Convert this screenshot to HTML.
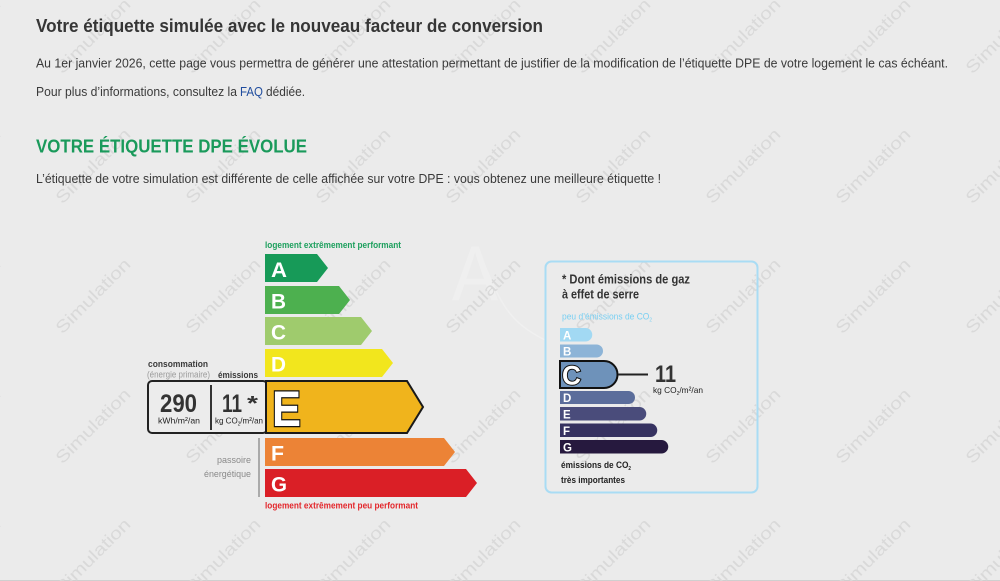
<!DOCTYPE html>
<html><head><meta charset="utf-8"><style>
html,body{margin:0;padding:0;background:#ebebeb;}
svg{display:block;}
text{font-family:"Liberation Sans",Arial,sans-serif;}
</style></head><body>
<svg width="1000" height="581" viewBox="0 0 1000 581" xmlns="http://www.w3.org/2000/svg">
<rect x="0" y="0" width="1000" height="581" fill="#ebebeb"/>
<line x1="0" y1="580.5" x2="1000" y2="580.5" stroke="#cfcfcf" stroke-width="1"/>

<!-- faint logo -->
<g opacity="0.35">
<text x="452" y="300" font-family="Liberation Serif,serif" font-size="78" fill="#f8f8f8" textLength="46" lengthAdjust="spacingAndGlyphs">A</text>
<path d="M478,250 C500,300 505,320 545,340" stroke="#f8f8f8" stroke-width="1.5" fill="none"/>
</g>

<!-- watermarks -->
<g fill="#d9d9d9" font-size="17" text-anchor="middle">
<text transform="translate(-33,40) rotate(-45)" textLength="98" lengthAdjust="spacingAndGlyphs">Simulation</text>
<text transform="translate(97,40) rotate(-45)" textLength="98" lengthAdjust="spacingAndGlyphs">Simulation</text>
<text transform="translate(227,40) rotate(-45)" textLength="98" lengthAdjust="spacingAndGlyphs">Simulation</text>
<text transform="translate(357,40) rotate(-45)" textLength="98" lengthAdjust="spacingAndGlyphs">Simulation</text>
<text transform="translate(487,40) rotate(-45)" textLength="98" lengthAdjust="spacingAndGlyphs">Simulation</text>
<text transform="translate(617,40) rotate(-45)" textLength="98" lengthAdjust="spacingAndGlyphs">Simulation</text>
<text transform="translate(747,40) rotate(-45)" textLength="98" lengthAdjust="spacingAndGlyphs">Simulation</text>
<text transform="translate(877,40) rotate(-45)" textLength="98" lengthAdjust="spacingAndGlyphs">Simulation</text>
<text transform="translate(1007,40) rotate(-45)" textLength="98" lengthAdjust="spacingAndGlyphs">Simulation</text>

<text transform="translate(-33,170) rotate(-45)" textLength="98" lengthAdjust="spacingAndGlyphs">Simulation</text>
<text transform="translate(97,170) rotate(-45)" textLength="98" lengthAdjust="spacingAndGlyphs">Simulation</text>
<text transform="translate(227,170) rotate(-45)" textLength="98" lengthAdjust="spacingAndGlyphs">Simulation</text>
<text transform="translate(357,170) rotate(-45)" textLength="98" lengthAdjust="spacingAndGlyphs">Simulation</text>
<text transform="translate(487,170) rotate(-45)" textLength="98" lengthAdjust="spacingAndGlyphs">Simulation</text>
<text transform="translate(617,170) rotate(-45)" textLength="98" lengthAdjust="spacingAndGlyphs">Simulation</text>
<text transform="translate(747,170) rotate(-45)" textLength="98" lengthAdjust="spacingAndGlyphs">Simulation</text>
<text transform="translate(877,170) rotate(-45)" textLength="98" lengthAdjust="spacingAndGlyphs">Simulation</text>
<text transform="translate(1007,170) rotate(-45)" textLength="98" lengthAdjust="spacingAndGlyphs">Simulation</text>

<text transform="translate(-33,300) rotate(-45)" textLength="98" lengthAdjust="spacingAndGlyphs">Simulation</text>
<text transform="translate(97,300) rotate(-45)" textLength="98" lengthAdjust="spacingAndGlyphs">Simulation</text>
<text transform="translate(227,300) rotate(-45)" textLength="98" lengthAdjust="spacingAndGlyphs">Simulation</text>
<text transform="translate(357,300) rotate(-45)" textLength="98" lengthAdjust="spacingAndGlyphs">Simulation</text>
<text transform="translate(487,300) rotate(-45)" textLength="98" lengthAdjust="spacingAndGlyphs">Simulation</text>
<text transform="translate(617,300) rotate(-45)" textLength="98" lengthAdjust="spacingAndGlyphs">Simulation</text>
<text transform="translate(747,300) rotate(-45)" textLength="98" lengthAdjust="spacingAndGlyphs">Simulation</text>
<text transform="translate(877,300) rotate(-45)" textLength="98" lengthAdjust="spacingAndGlyphs">Simulation</text>
<text transform="translate(1007,300) rotate(-45)" textLength="98" lengthAdjust="spacingAndGlyphs">Simulation</text>

<text transform="translate(-33,430) rotate(-45)" textLength="98" lengthAdjust="spacingAndGlyphs">Simulation</text>
<text transform="translate(97,430) rotate(-45)" textLength="98" lengthAdjust="spacingAndGlyphs">Simulation</text>
<text transform="translate(227,430) rotate(-45)" textLength="98" lengthAdjust="spacingAndGlyphs">Simulation</text>
<text transform="translate(357,430) rotate(-45)" textLength="98" lengthAdjust="spacingAndGlyphs">Simulation</text>
<text transform="translate(487,430) rotate(-45)" textLength="98" lengthAdjust="spacingAndGlyphs">Simulation</text>
<text transform="translate(617,430) rotate(-45)" textLength="98" lengthAdjust="spacingAndGlyphs">Simulation</text>
<text transform="translate(747,430) rotate(-45)" textLength="98" lengthAdjust="spacingAndGlyphs">Simulation</text>
<text transform="translate(877,430) rotate(-45)" textLength="98" lengthAdjust="spacingAndGlyphs">Simulation</text>
<text transform="translate(1007,430) rotate(-45)" textLength="98" lengthAdjust="spacingAndGlyphs">Simulation</text>

<text transform="translate(-33,560) rotate(-45)" textLength="98" lengthAdjust="spacingAndGlyphs">Simulation</text>
<text transform="translate(97,560) rotate(-45)" textLength="98" lengthAdjust="spacingAndGlyphs">Simulation</text>
<text transform="translate(227,560) rotate(-45)" textLength="98" lengthAdjust="spacingAndGlyphs">Simulation</text>
<text transform="translate(357,560) rotate(-45)" textLength="98" lengthAdjust="spacingAndGlyphs">Simulation</text>
<text transform="translate(487,560) rotate(-45)" textLength="98" lengthAdjust="spacingAndGlyphs">Simulation</text>
<text transform="translate(617,560) rotate(-45)" textLength="98" lengthAdjust="spacingAndGlyphs">Simulation</text>
<text transform="translate(747,560) rotate(-45)" textLength="98" lengthAdjust="spacingAndGlyphs">Simulation</text>
<text transform="translate(877,560) rotate(-45)" textLength="98" lengthAdjust="spacingAndGlyphs">Simulation</text>
<text transform="translate(1007,560) rotate(-45)" textLength="98" lengthAdjust="spacingAndGlyphs">Simulation</text>
</g>

<!-- header text -->
<text x="36" y="32" font-size="18" font-weight="bold" fill="#363636" textLength="507" lengthAdjust="spacingAndGlyphs">Votre étiquette simulée avec le nouveau facteur de conversion</text>
<text x="36" y="67.5" font-size="12.5" fill="#3a3a3a" textLength="912" lengthAdjust="spacingAndGlyphs">Au 1er janvier 2026, cette page vous permettra de générer une attestation permettant de justifier de la modification de l’étiquette DPE de votre logement le cas échéant.</text>
<text x="36" y="96" font-size="12.5" fill="#3a3a3a" textLength="201" lengthAdjust="spacingAndGlyphs">Pour plus d’informations, consultez la</text>
<text x="240" y="96" font-size="12.5" fill="#1f4c9e" textLength="23" lengthAdjust="spacingAndGlyphs">FAQ</text>
<text x="266" y="96" font-size="12.5" fill="#3a3a3a" textLength="39" lengthAdjust="spacingAndGlyphs">dédiée.</text>
<text x="36" y="152.5" font-size="18" font-weight="bold" fill="#1a9a5b" textLength="271" lengthAdjust="spacingAndGlyphs">VOTRE ÉTIQUETTE DPE ÉVOLUE</text>
<text x="36" y="183" font-size="12.5" fill="#3a3a3a" textLength="625" lengthAdjust="spacingAndGlyphs">L’étiquette de votre simulation est différente de celle affichée sur votre DPE : vous obtenez une meilleure étiquette !</text>

<!-- LEFT DPE label -->
<text x="265" y="248" font-size="9" font-weight="bold" fill="#1ea05e" textLength="136" lengthAdjust="spacingAndGlyphs">logement extrêmement performant</text>

<polygon points="265,254 317,254 328,268 317,282 265,282" fill="#179a58"/>
<polygon points="265,286 339,286 350,300 339,314 265,314" fill="#4db04f"/>
<polygon points="265,317 361,317 372,331 361,345 265,345" fill="#9fcb6d"/>
<polygon points="265,349 382,349 393,363 382,377 265,377" fill="#f2e61d"/>
<polygon points="265,438 444,438 455,452 444,466 265,466" fill="#ec8336"/>
<polygon points="265,469 466,469 477,483 466,497 265,497" fill="#da1f26"/>

<g font-size="21" font-weight="bold" fill="#ffffff">
<text x="271" y="277" textLength="16" lengthAdjust="spacingAndGlyphs">A</text>
<text x="271" y="308.5" textLength="15" lengthAdjust="spacingAndGlyphs">B</text>
<text x="271" y="339.5" textLength="15" lengthAdjust="spacingAndGlyphs">C</text>
<text x="271" y="371.5" textLength="15" lengthAdjust="spacingAndGlyphs">D</text>
<text x="271" y="460.5" textLength="13" lengthAdjust="spacingAndGlyphs">F</text>
<text x="271" y="491.5" textLength="16" lengthAdjust="spacingAndGlyphs">G</text>
</g>

<!-- consumption box -->
<rect x="148" y="381" width="119" height="52" rx="4" fill="#ececec" stroke="#222" stroke-width="2"/>
<line x1="211" y1="385" x2="211" y2="430" stroke="#333" stroke-width="2"/>
<polygon points="266,381 407,381 423,407 407,433 266,433" fill="#f0b41c" stroke="#1a1a1a" stroke-width="2" stroke-linejoin="miter"/>
<text x="272" y="426" font-size="50" font-weight="bold" fill="#ffffff" stroke="#111" stroke-width="2.5" paint-order="stroke" textLength="29" lengthAdjust="spacingAndGlyphs">E</text>

<text x="148" y="367" font-size="9.5" font-weight="bold" fill="#3a3a3a" textLength="60" lengthAdjust="spacingAndGlyphs">consommation</text>
<text x="147" y="377.5" font-size="9" fill="#9a9a9a" textLength="63" lengthAdjust="spacingAndGlyphs">(énergie primaire)</text>
<text x="218" y="378" font-size="9.5" font-weight="bold" fill="#3a3a3a" textLength="40" lengthAdjust="spacingAndGlyphs">émissions</text>

<text x="160" y="412" font-size="25" font-weight="bold" fill="#333" textLength="37" lengthAdjust="spacingAndGlyphs">290</text>
<text x="158" y="423.5" font-size="8.5" fill="#222" textLength="42" lengthAdjust="spacingAndGlyphs">kWh/m²/an</text>
<text x="222" y="412" font-size="25" font-weight="bold" fill="#333" textLength="20" lengthAdjust="spacingAndGlyphs">11</text>
<text x="247" y="410" font-size="20" font-weight="bold" fill="#333" textLength="11" lengthAdjust="spacingAndGlyphs">*</text>
<text x="215" y="423.5" font-size="8.5" fill="#222" textLength="48" lengthAdjust="spacingAndGlyphs">kg CO<tspan font-size="5" dy="2">2</tspan><tspan dy="-2">/m²/an</tspan></text>

<line x1="259" y1="438" x2="259" y2="497" stroke="#aaaaaa" stroke-width="2"/>
<text x="251" y="463" font-size="9.5" fill="#8a8a8a" text-anchor="end" textLength="34" lengthAdjust="spacingAndGlyphs">passoire</text>
<text x="251" y="477" font-size="9.5" fill="#8a8a8a" text-anchor="end" textLength="47" lengthAdjust="spacingAndGlyphs">énergétique</text>

<text x="265" y="508.5" font-size="9" font-weight="bold" fill="#e3262b" textLength="153" lengthAdjust="spacingAndGlyphs">logement extrêmement peu performant</text>

<!-- RIGHT GES box -->
<rect x="545.5" y="261.5" width="212" height="231" rx="6" fill="none" stroke="#a9dcf4" stroke-width="2"/>
<text x="562" y="283.5" font-size="13" font-weight="bold" fill="#333" textLength="128" lengthAdjust="spacingAndGlyphs">* Dont émissions de gaz</text>
<text x="562" y="298.5" font-size="13" font-weight="bold" fill="#333" textLength="77" lengthAdjust="spacingAndGlyphs">à effet de serre</text>
<text x="562" y="319.5" font-size="9" fill="#79cff2" textLength="90" lengthAdjust="spacingAndGlyphs">peu d’émissions de CO<tspan font-size="5" dy="2">2</tspan></text>

<path d="M560,328 H585.5 A6.5,6.5 0 0 1 585.5,341.5 H560 Z" fill="#a2d9f3"/>
<path d="M560,344.5 H596.5 A6.5,6.5 0 0 1 596.5,357.5 H560 Z" fill="#8db4d7"/>
<path d="M560,361 H604 A13.5,13.5 0 0 1 604,388 H560 Z" fill="#6e92ba" stroke="#111" stroke-width="2"/>
<path d="M560,391 H628.5 A6.5,6.5 0 0 1 628.5,404 H560 Z" fill="#5b6d9b"/>
<path d="M560,407 H639.5 A6.5,6.5 0 0 1 639.5,420.5 H560 Z" fill="#4a4c7b"/>
<path d="M560,423.5 H650.5 A6.5,6.5 0 0 1 650.5,437 H560 Z" fill="#363260"/>
<path d="M560,440 H661.5 A6.5,6.5 0 0 1 661.5,453.5 H560 Z" fill="#26193e"/>

<g font-size="11.5" font-weight="bold" fill="#ffffff">
<text x="563" y="339.5">A</text>
<text x="563" y="355.5">B</text>
<text x="563" y="402">D</text>
<text x="563" y="418.5">E</text>
<text x="563" y="435">F</text>
<text x="563" y="451.5">G</text>
</g>
<text x="562" y="384.5" font-size="27" font-weight="bold" fill="#ffffff" stroke="#111" stroke-width="2" paint-order="stroke" textLength="19" lengthAdjust="spacingAndGlyphs">C</text>

<line x1="618" y1="374.5" x2="648" y2="374.5" stroke="#222" stroke-width="2"/>
<text x="655" y="382" font-size="24" font-weight="bold" fill="#333" textLength="21" lengthAdjust="spacingAndGlyphs">11</text>
<text x="653" y="393" font-size="8.5" fill="#222" textLength="50" lengthAdjust="spacingAndGlyphs">kg CO<tspan font-size="5" dy="2">2</tspan><tspan dy="-2">/m²/an</tspan></text>

<text x="561" y="468" font-size="9" font-weight="bold" fill="#222" textLength="70" lengthAdjust="spacingAndGlyphs">émissions de CO<tspan font-size="5" dy="2">2</tspan></text>
<text x="561" y="483" font-size="9" font-weight="bold" fill="#222" textLength="64" lengthAdjust="spacingAndGlyphs">très importantes</text>
</svg>
</body></html>
